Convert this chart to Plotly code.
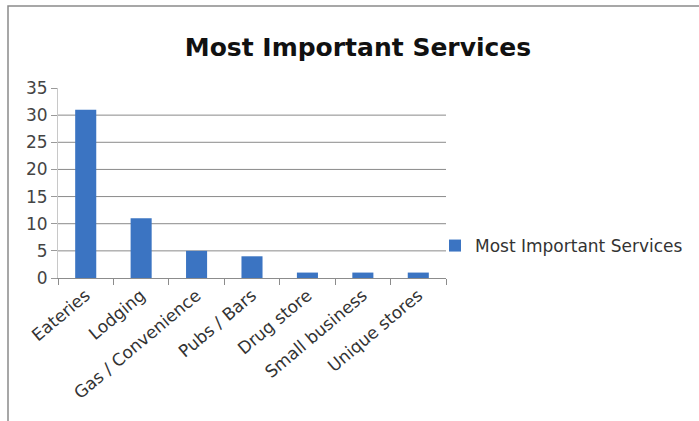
import plotly.graph_objects as go

categories = ["Eateries", "Lodging", "Gas / Convenience", "Pubs / Bars", "Drug store", "Small business", "Unique stores"]
values = [31, 11, 5, 4, 1, 1, 1]
series_name = "Most Important Services"
y_ticks = [0, 5, 10, 15, 20, 25, 30, 35]

W, H = 699, 421
L, R, T, B = 58, 253, 88, 143
pw = W - L - R
ph = H - T - B

def px_x(x):
    return (x - L) / pw

def px_y(y):
    return (H - B - y) / ph

fig = go.Figure()
fig.add_trace(go.Bar(
    x=categories, y=values, name=series_name,
    marker=dict(color="#3b74c2", line=dict(width=0)),
    width=0.38,
    showlegend=True,
))

# horizontal gridlines (no line at the top value, as in the reference)
for v in y_ticks[1:-1]:
    fig.add_hline(y=v, line=dict(color="#8a8a8a", width=1), layer="below")

fig.update_layout(
    width=W, height=H,
    margin=dict(l=L, r=R, t=T, b=B, autoexpand=False),
    paper_bgcolor="white", plot_bgcolor="white",
    title=dict(text="<b>Most Important Services</b>", x=358 / W, xanchor="center",
               y=1 - 47 / H, yanchor="middle",
               font=dict(family="DejaVu Sans", size=25, color="#111111")),
    showlegend=True,
    legend=dict(x=px_x(435), xanchor="left", y=px_y(246), yanchor="middle",
                font=dict(family="DejaVu Sans", size=17, color="#333333"),
                bgcolor="rgba(0,0,0,0)", itemwidth=30),
    xaxis=dict(
        tickangle=-40,
        tickfont=dict(family="DejaVu Sans", size=17, color="#333333"),
        showline=True, linecolor="#8c8c8c", linewidth=1,
        ticks="outside", ticklen=6, tickcolor="#8c8c8c",
        tickson="boundaries",
        showgrid=False,
    ),
    yaxis=dict(
        range=[0, 35], tickvals=y_ticks,
        tickfont=dict(family="DejaVu Sans", size=17, color="#444444"),
        showline=True, linecolor="#c8c8c8", linewidth=1,
        ticks="outside", ticklen=6, tickcolor="#9a9a9a",
        showgrid=False,
        zeroline=False,
    ),
    bargap=0.6,
)

fig.add_shape(type="rect", xref="paper", yref="paper",
              x0=px_x(8), x1=px_x(705), y0=px_y(426), y1=px_y(6),
              line=dict(color="#8a8a8a", width=1.5), fillcolor="rgba(0,0,0,0)", layer="below")

fig.write_html("out.html")
